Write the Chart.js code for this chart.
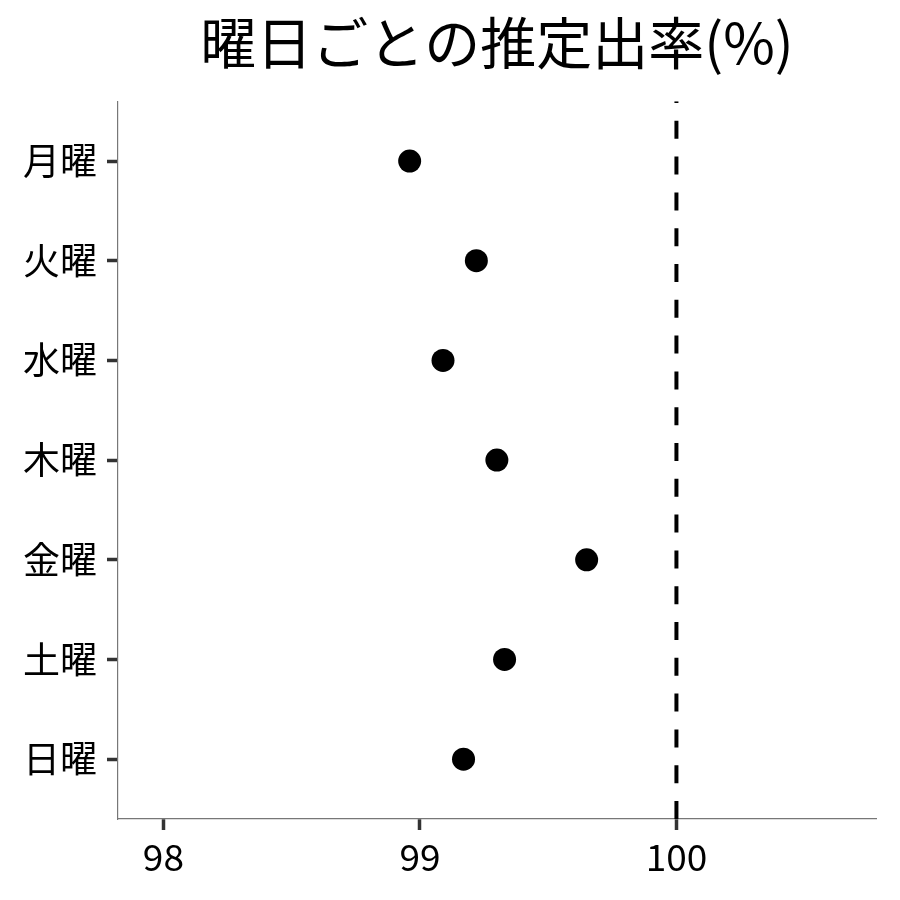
<!DOCTYPE html>
<html>
<head>
<meta charset="utf-8">
<script src="https://cdn.jsdelivr.net/npm/chart.js@4/dist/chart.umd.min.js"></script>
<style>
  html, body { margin: 0; padding: 0; background: #fff; }
  #wrap { width: 900px; height: 900px; }
</style>
</head>
<body>
<div id="wrap"><canvas id="chart" width="900" height="900"></canvas></div>
<script>
  // days top to bottom, estimated rate (%) per day
  var dayLabels = ['月曜', '火曜', '水曜', '木曜', '金曜', '土曜', '日曜'];
  var rateValues = [98.96, 99.22, 99.09, 99.30, 99.65, 99.33, 99.17];
  var xTickValues = [98, 99, 100];
  var refValue = 100;

  var FONT = "'Noto Sans CJK JP', 'Noto Sans', sans-serif";

  var points = dayLabels.map(function (d, i) {
    return { x: rateValues[i], y: i };
  });

  // dashed reference line, drawn bottom to top
  var refLine = [
    { x: refValue, y: dayLabels.length - 0.4 },
    { x: refValue, y: -0.6 }
  ];

  var config = {
    type: 'scatter',
    data: {
      datasets: [{
        data: points,
        backgroundColor: '#000',
        borderWidth: 0,
        pointRadius: 11.5,
        pointHoverRadius: 11.5
      }, {
        data: refLine,
        showLine: true,
        borderColor: '#000',
        borderWidth: 4,
        borderDash: [18, 17.8],
        pointRadius: 0,
        pointHoverRadius: 0
      }]
    },
    options: {
      responsive: false,
      animation: false,
      layout: { padding: { top: 0, right: 24, bottom: 0, left: 0 } },
      plugins: {
        legend: { display: false },
        tooltip: { enabled: false },
        title: {
          display: true,
          text: '曜日ごとの推定出率(%)',
          fullSize: false,
          color: '#000',
          font: { family: FONT, size: 56, weight: 'normal' },
          padding: { top: 9, bottom: 25 }
        }
      },
      scales: {
        x: {
          type: 'linear',
          min: 97.823,
          max: 100.778,
          afterBuildTicks: function (s) {
            s.ticks = xTickValues.map(function (v) { return { value: v }; });
          },
          afterFit: function (s) { s.height = 81; },
          grid: {
            drawOnChartArea: false,
            drawTicks: true,
            tickLength: 11,
            tickColor: '#333',
            tickWidth: 3.5
          },
          border: { display: true, color: '#777', width: 1.2 },
          ticks: {
            color: '#000',
            padding: 5,
            font: { family: FONT, size: 37 },
            maxRotation: 0
          }
        },
        y: {
          type: 'linear',
          reverse: true,
          min: -0.6,
          max: dayLabels.length - 0.4,
          afterBuildTicks: function (s) {
            s.ticks = dayLabels.map(function (d, i) { return { value: i }; });
          },
          afterFit: function (s) { s.width = 118; },
          grid: {
            drawOnChartArea: false,
            drawTicks: true,
            tickLength: 11,
            tickColor: '#333',
            tickWidth: 3.5
          },
          border: { display: true, color: '#777', width: 1.2 },
          ticks: {
            color: '#000',
            padding: 10,
            font: { family: FONT, size: 37 },
            callback: function (v) { return dayLabels[v]; }
          }
        }
      }
    }
  };

  var ctx = document.getElementById('chart').getContext('2d');
  window.myChart = new Chart(ctx, config);
</script>
</body>
</html>
